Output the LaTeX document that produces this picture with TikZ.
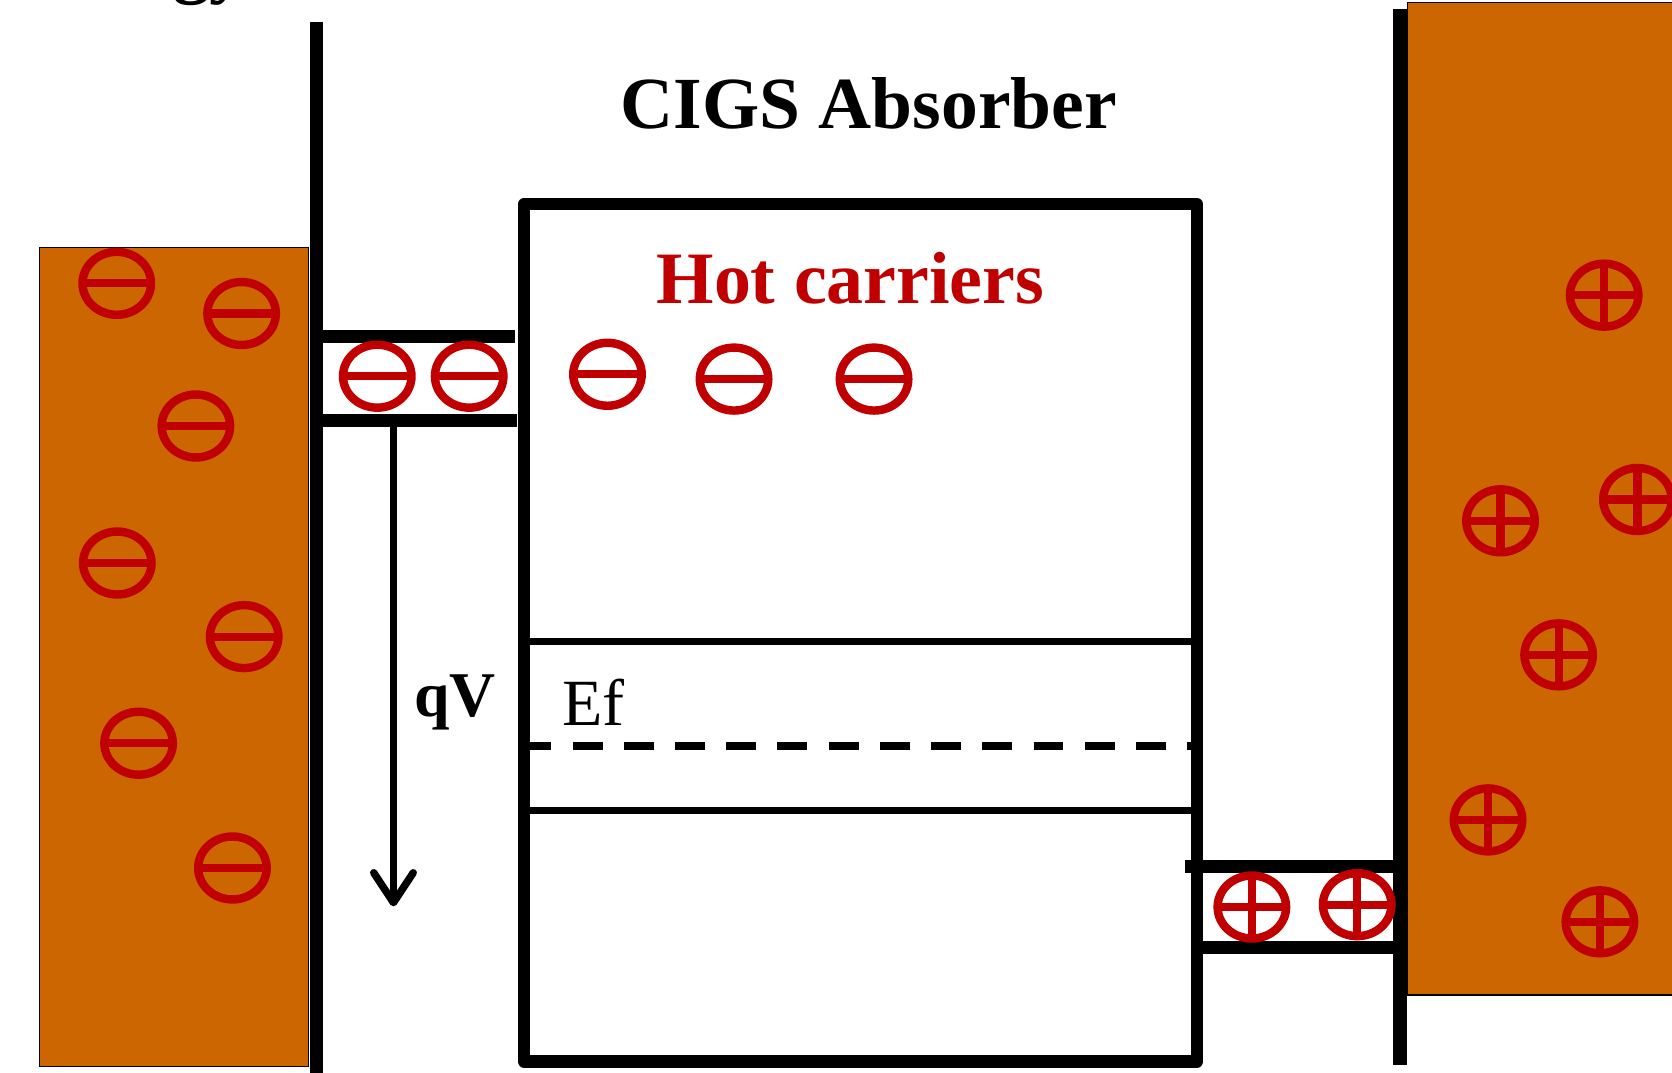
\documentclass[tikz,border=0pt]{standalone}
\usepackage{fontspec}
\setmainfont{Liberation Serif}
\usetikzlibrary{shapes.geometric,arrows.meta}
\definecolor{cuorange}{RGB}{204,102,0}
\definecolor{carred}{RGB}{192,0,0}
\begin{document}
\begin{tikzpicture}[x=0.01cm,y=-0.01cm,
  carrier/.style={ellipse, draw=carred, line width=0.079cm, minimum width=0.642cm,
    minimum height=0.59cm, inner sep=0pt, outer sep=0pt},
  elec/.style={carrier, path picture={\draw[carred,line width=0.075cm]
      (path picture bounding box.west) -- (path picture bounding box.east);}},
  hole/.style={carrier, path picture={\draw[carred,line width=0.076cm]
      (path picture bounding box.west) -- (path picture bounding box.east)
      (path picture bounding box.north) -- (path picture bounding box.south);}},
  contact/.style={fill=cuorange, draw=black, line width=0.012cm},
  thickline/.style={line width=0.12cm},
  levelline/.style={line width=0.066cm},
  boldlabel/.style={inner sep=0pt, font=\fontsize{19.6pt}{24pt}\selectfont\bfseries},
]
\useasboundingbox (0,0) rectangle (1568,1006);
\clip (0,0) rectangle (1568,1006);

% partially visible axis label
\node[boldlabel, anchor=base east] (energy) at (232,-9.7) {Energy};

% contacts
\draw[contact] (37,232) rectangle (289,1000);
\draw[contact] (1320,2.5) rectangle (1620,933);

% left interface
\draw[thickline] (297,21) -- (297,1012);
\draw[thickline] (291,315.5) -- (483,315.5);
\draw[thickline] (291,394) -- (485,394);

% right interface
\draw[line width=0.125cm] (1313,8.4) -- (1313,999);
\draw[line width=0.125cm] (1111,812.8) -- (1307,812.8);
\draw[line width=0.125cm] (1128,888.6) -- (1306,888.6);

% absorber box
\draw[line width=0.115cm, line join=round] (491.5,191.5) rectangle (1122.5,995.5);
\draw[levelline] (497,601.5) -- (1117,601.5);
\draw[levelline] (497,760) -- (1117,760);
\draw[line width=0.068cm, dash pattern=on 0.28cm off 0.2cm, dash phase=0.08cm]
  (497,699.7) -- (1117,699.7);

% texts
\node[boldlabel, anchor=base west] (cigs) at (581.5,120.3) {CIGS Absorber};
\node[inner sep=0pt, anchor=base west, text=carred, font=\fontsize{19.7pt}{24pt}\selectfont\bfseries]
  (hot) at (615,284.5) {Hot carriers};
\node[inner sep=0pt, anchor=base west, font=\fontsize{17pt}{20pt}\selectfont\bfseries] (qv) at (387.6,672) {qV};
\node[inner sep=0pt, anchor=base west, font=\fontsize{17.6pt}{21pt}\selectfont] (ef) at (526.8,680) {Ef};

% qV arrow
\coordinate (qvtop) at (369,400);
\coordinate (qvbot) at (369,850);
\draw[line width=0.07cm, -{Straight Barb[length=0.28cm,width=0.37cm,round]}] (qvtop) -- (qvbot);

% electrons in left contact
\node[elec] (l1) at (109.5,265.7) {};
\node[elec] (l2) at (226.6,294) {};
\node[elec] (l3) at (183.7,399.5) {};
\node[elec] (l4) at (110,528) {};
\node[elec] (l5) at (229,597) {};
\node[elec] (l6) at (130,697) {};
\node[elec] (l7) at (218,814) {};
% electrons in left band
\node[elec] (b1) at (353.8,352.8) {};
\node[elec] (b2) at (440,352.8) {};
% hot carriers
\node[elec] (h1) at (569.7,351) {};
\node[elec] (h2) at (688.4,355.5) {};
\node[elec] (h3) at (819.7,355.5) {};

% holes in right band
\node[hole] (rb1) at (1174,850.6) {};
\node[hole] (rb2) at (1272.8,848.4) {};
% holes in right contact
\node[hole] (r1) at (1504.4,276.8) {};
\node[hole] (r2) at (1407.2,488.4) {};
\node[hole] (r3) at (1535.6,468.4) {};
\node[hole] (r4) at (1461.7,614.1) {};
\node[hole] (r5) at (1395.5,768.9) {};
\node[hole] (r6) at (1500.4,864.5) {};
\end{tikzpicture}
\end{document}
